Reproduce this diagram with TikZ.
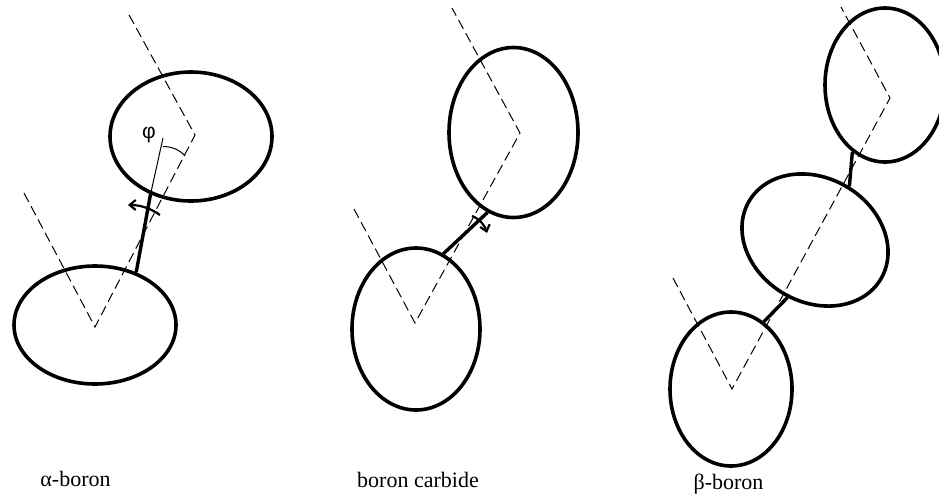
\documentclass[tikz,border=0pt]{standalone}
\usepackage{fontspec}
\setmainfont{Liberation Serif}
\usetikzlibrary{shapes.geometric,arrows.meta}

\begin{document}
\begin{tikzpicture}[
  x=1pt, y=-1pt,
  icosa/.style={
    draw,
    ellipse,
    inner sep=0pt,
    line width=3.6pt
  },
  bond/.style={line width=3.4pt},
  axisline/.style={line width=1pt, dash pattern=on 10pt off 5pt},
  twist/.style={line width=2.2pt, -{Straight Barb[length=6pt,width=10pt]}},
  thinline/.style={line width=1pt},
  namelabel/.style={font=\fontsize{22}{26}\selectfont}
]
\useasboundingbox (0,0) rectangle (939,496);

% alpha-boron
\node[icosa, minimum width=162pt, minimum height=118pt] (alow) at (95,325) {};
\node[icosa, minimum width=162pt, minimum height=129pt] (aup) at (191,136.5) {};
\coordinate (aapexlow) at (95,327);
\coordinate (aapexup) at (195,135);
\draw[axisline] (24,193) -- (aapexlow) -- (aapexup) -- (128,13);
\draw[bond] (alow.52.6) -- (aup.235);
\coordinate (aphi) at (163,138);
\draw[thinline] (aphi) -- (aup.235);
\coordinate (aarcs) at (163,146.5);
\coordinate (aarce) at (185,156);
\draw[thinline] (aarcs) .. controls (172,146.5) and (180,150) .. (aarce);
\coordinate (atws) at (160,215);
\coordinate (atwe) at (128,205);
\draw[twist] (atws) .. controls (150,208) and (140,205) .. (atwe);
\node[font=\fontsize{21}{24}\selectfont] (philabel) at (149,135.5) {\fontspec{Liberation Sans}φ};
\node[namelabel] (alabel) at (75.5,479) {α-boron};

% boron carbide
\node[icosa, minimum width=128pt, minimum height=162pt] (clow) at (416,329) {};
\node[icosa, minimum width=129pt, minimum height=170pt] (cup) at (513.5,132.5) {};
\coordinate (capexlow) at (415,323);
\coordinate (capexup) at (520,133);
\draw[axisline] (354,209) -- (capexlow) -- (capexup) -- (452,8);
\draw[bond] (clow.70.2) -- (cup.252.2);
\coordinate (ctws) at (472,216);
\coordinate (ctwe) at (487,233);
\draw[twist] (ctws) .. controls (480,219) and (485,226) .. (ctwe);
\node[namelabel] (clabel) at (418,480) {boron carbide};

% beta-boron
\node[icosa, minimum width=122pt, minimum height=154pt] (blow) at (731,389) {};
\node[icosa, rotate=-30.6, minimum width=153pt, minimum height=124pt] (bmid) at (815,240) {};
\node[icosa, minimum width=120pt, minimum height=154pt] (bup) at (885,85) {};
\coordinate (bapexlow) at (732,389);
\coordinate (bapexup) at (890,98);
\draw[axisline] (673,278) -- (bapexlow) -- (bapexup) -- (841,7);
\draw[bond] (blow.64) -- (bmid.275.6);
\draw[bond] (bmid.88.2) -- (bup.244);
\node[namelabel] (blabel) at (728.5,484) {β-boron};
\end{tikzpicture}
\end{document}
